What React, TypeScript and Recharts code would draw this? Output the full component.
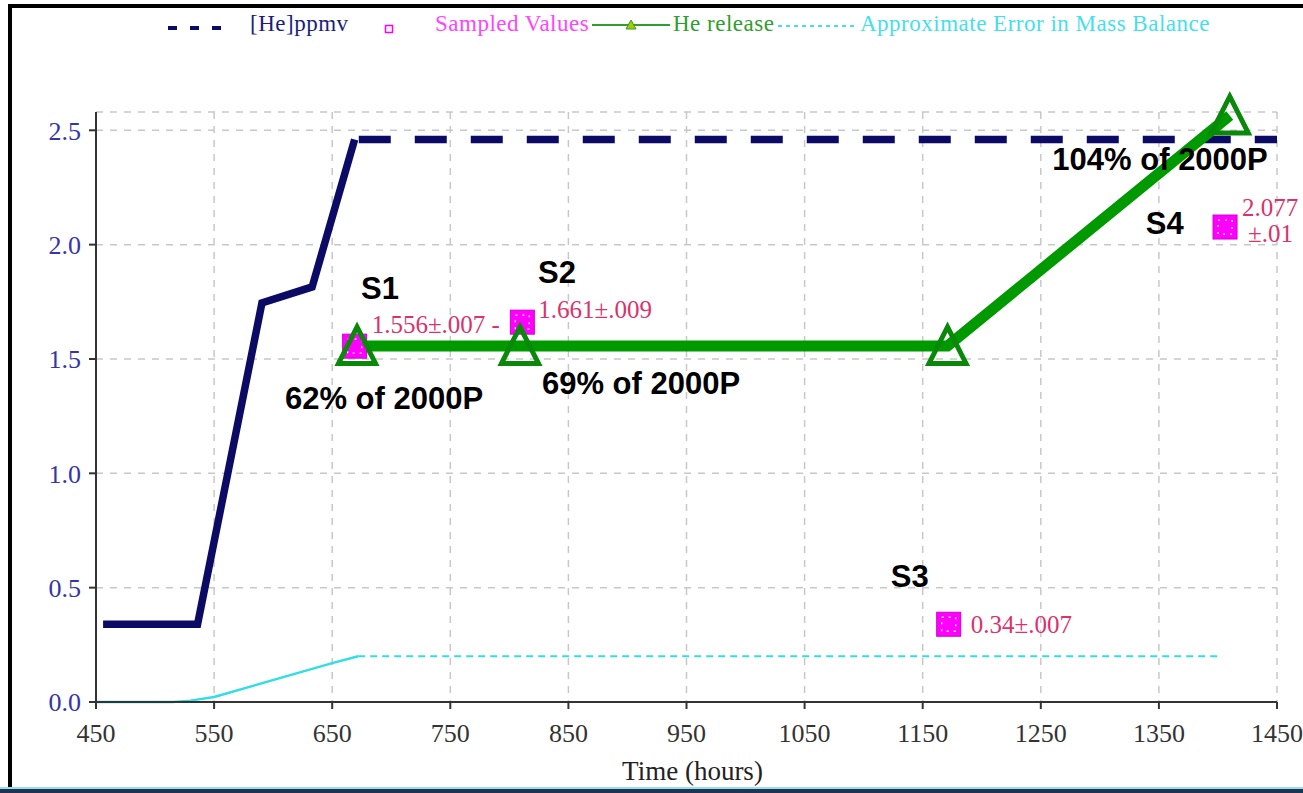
import {
  ComposedChart, Line, Scatter, XAxis, YAxis, CartesianGrid,
  ReferenceDot, Label,
} from 'recharts';

// [He]ppmv: rising part (solid) and the flat continuation (dashed)
const ppmvHours = [456, 536, 590.5, 633, 669];
const ppmvValues = [0.34, 0.34, 1.745, 1.815, 2.46];
const ppmvFlatHours = [672.5, 1450];
const ppmvFlatValues = [2.46, 2.46];

// He release
const releaseHours = [671, 809, 1171, 1410];
const releaseValues = [1.557, 1.557, 1.557, 2.565];

// Sampled values
const sampleHours = [669, 811, 1172, 1406];
const sampleValues = [1.556, 1.661, 0.34, 2.077];
const sampleLabels = ['1.556±.007 -', '1.661±.009', '0.34±.007', '2.077\n±.01'];

// Approximate error in mass balance
const errorHours = [450, 515, 530, 550, 650, 672];
const errorValues = [0, 0, 0.006, 0.022, 0.17, 0.2];
const errorFlatHours = [672, 1403];
const errorFlatValues = [0.2, 0.2];

const xTicks = [450, 550, 650, 750, 850, 950, 1050, 1150, 1250, 1350, 1450];
const yTicks = [0, 0.5, 1.0, 1.5, 2.0, 2.5];

const annotationText = ['S1', 'S2', 'S3', 'S4', '62% of 2000P', '69% of 2000P', '104% of 2000P'];
const annotationHours = [690.5, 840.3, 1139, 1355, 693.9, 911.5, 1351];
const annotationValues = [1.812, 1.882, 0.551, 2.096, 1.33, 1.396, 2.376];

// label placement next to each sampled square (dx, dy per line)
const LABEL_OFFSETS = [
  [[17, -22]],
  [[16, -13]],
  [[22, 0]],
  [[17, -20], [23, 6]],
];

const zip = (xs: number[], ys: number[]) => xs.map((x, i) => ({ x, y: ys[i] }));

const NAVY = '#0b0b66';
const GREEN = '#009900';
const CYAN = '#33dde6';
const MAGENTA = '#ff00ff';
const SERIF = '"Liberation Serif", "Times New Roman", serif';
const SANS = '"Liberation Sans", Arial, sans-serif';

const Triangle = (p: any) => {
  if (p.cx == null || p.cy == null) return <g key={p.index} />;
  const { cx, cy } = p;
  return (
    <path
      key={`tri-${p.index}`}
      d={`M${cx},${cy - 19} L${cx + 18.5},${cy + 17.5} L${cx - 18.5},${cy + 17.5} Z`}
      fill="none"
      stroke="#0a880a"
      strokeWidth={5}
    />
  );
};

const SampleSquare = (p: any) => {
  const { cx, cy, payload } = p;
  const lines: string[] = payload.label.split('\n');
  const offs = LABEL_OFFSETS[payload.i];
  return (
    <g>
      <rect x={cx - 12} y={cy - 12} width={24} height={24} fill={MAGENTA} stroke="#d000d0" strokeWidth={1} />
      <rect x={cx - 7} y={cy - 7} width={14} height={14} fill="none" stroke="#fff" strokeWidth={1.3} strokeDasharray="2 5" />
      {lines.map((t, k) => (
        <text
          key={k}
          x={cx + offs[k][0]}
          y={cy + offs[k][1]}
          dominantBaseline="central"
          fill="#d9336e"
          fontSize={25}
          fontFamily={SERIF}
        >
          {t}
        </text>
      ))}
    </g>
  );
};

export default function App() {
  const ppmvData = zip(ppmvHours, ppmvValues);
  const ppmvFlat = zip(ppmvFlatHours, ppmvFlatValues);
  const releaseData = zip(releaseHours, releaseValues);
  const errorData = zip(errorHours, errorValues);
  const errorFlat = zip(errorFlatHours, errorFlatValues);
  const sampleData = sampleHours.map((x, i) => ({ x, y: sampleValues[i], label: sampleLabels[i], i }));

  return (
    <div style={{ position: 'absolute', left: 0, top: 0, width: 1303, height: 793, background: '#fff', overflow: 'hidden' }}>
      <div style={{ position: 'absolute', left: 0, top: 0 }}>
        <ComposedChart width={1303} height={793} margin={{ top: 112, right: 26, bottom: 31, left: 36 }}>
          <CartesianGrid stroke="#c8c8c8" strokeDasharray="7 7" strokeWidth={1.5} />
          <XAxis
            type="number"
            dataKey="x"
            domain={[450, 1450]}
            ticks={xTicks}
            height={60}
            tickSize={7}
            tickMargin={15}
            axisLine={{ stroke: '#333', strokeWidth: 2 }}
            tickLine={{ stroke: '#333', strokeWidth: 2 }}
            tick={{ fill: '#333', fontSize: 26, fontFamily: SERIF }}
          >
            <Label value="Time (hours)" position="bottom" offset={-1} dx={6} fill="#222" fontSize={27} fontFamily={SERIF} />
          </XAxis>
          <YAxis
            type="number"
            dataKey="y"
            domain={[0, 2.58]}
            ticks={yTicks}
            width={60}
            tickSize={7}
            tickMargin={8}
            tickFormatter={(v: number) => v.toFixed(1)}
            axisLine={{ stroke: '#333', strokeWidth: 2 }}
            tickLine={{ stroke: '#333', strokeWidth: 2 }}
            tick={{ fill: '#3535a5', fontSize: 26, fontFamily: SERIF }}
          />
          <Line data={errorData} dataKey="y" stroke={CYAN} strokeWidth={2.5} dot={false} isAnimationActive={false} />
          <Line data={errorFlat} dataKey="y" stroke={CYAN} strokeWidth={2} strokeDasharray="7 5" dot={false} isAnimationActive={false} />
          <Line data={ppmvData} dataKey="y" stroke={NAVY} strokeWidth={7.5} dot={false} isAnimationActive={false} />
          <Line data={ppmvFlat} dataKey="y" stroke={NAVY} strokeWidth={7.5} strokeDasharray="32 24" dot={false} isAnimationActive={false} />
          <Scatter data={sampleData} dataKey="y" shape={SampleSquare} isAnimationActive={false} />
          <Line data={releaseData} dataKey="y" stroke={GREEN} strokeWidth={11} dot={Triangle} isAnimationActive={false} />
          {annotationText.map((t, i) => (
            <ReferenceDot
              key={t}
              x={annotationHours[i]}
              y={annotationValues[i]}
              r={0}
              fill="none"
              stroke="none"
              label={{ value: t, position: 'center', fill: '#000', fontSize: 31, fontWeight: 700, fontFamily: SANS }}
            />
          ))}
        </ComposedChart>
      </div>
      <svg width={1303} height={793} style={{ position: 'absolute', left: 0, top: 0, pointerEvents: 'none' }}>
        {/* frame */}
        <rect x={8} y={4} width={1295} height={4} fill="#000" />
        <rect x={8} y={4} width={4} height={789} fill="#000" />
        <rect x={0} y={787} width={1303} height={2} fill="#9fdcec" />
        <rect x={0} y={789} width={1303} height={4} fill="#1c3552" />
        {/* legend */}
        <line x1={168} x2={221} y1={28} y2={28} stroke={NAVY} strokeWidth={4} strokeDasharray="9 13" />
        <text x={250} y={31} fill="#1c1c7c" fontSize={23} letterSpacing={0.5} fontFamily={SERIF}>[He]ppmv</text>
        <rect x={385.5} y={25.5} width={7} height={7} fill="none" stroke={MAGENTA} strokeWidth={1.5} />
        <text x={435} y={31} fill="#ff44ff" fontSize={23} letterSpacing={0.5} fontFamily={SERIF}>Sampled Values</text>
        <line x1={592} x2={670} y1={25} y2={25} stroke="#2e9e2e" strokeWidth={2} />
        <path d="M631,20 L636,29 L626,29 Z" fill="#a8c800" stroke="#2e9e2e" strokeWidth={1} />
        <text x={673} y={31} fill="#2e9e2e" fontSize={23} letterSpacing={0.5} fontFamily={SERIF}>He release</text>
        <line x1={778} x2={856} y1={26} y2={26} stroke="#44dde8" strokeWidth={2} strokeDasharray="4 4" />
        <text x={860} y={31} fill="#44e0ea" fontSize={23} letterSpacing={0.5} fontFamily={SERIF}>Approximate Error in Mass Balance</text>
      </svg>
    </div>
  );
}
